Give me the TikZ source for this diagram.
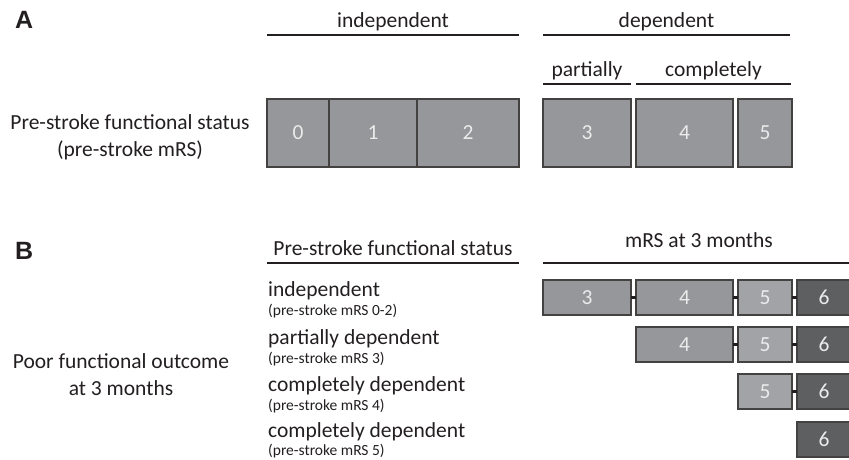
\documentclass[tikz,border=0pt]{standalone}
\usepackage{fontspec}
\setmainfont{Carlito}
\newfontfamily\panelfont{Liberation Sans}
\usepackage{xcolor}
\usetikzlibrary{positioning}

\definecolor{inkdark}{RGB}{35,31,32}
\definecolor{cellmid}{RGB}{150,151,154}
\definecolor{celllight}{RGB}{162,163,166}
\definecolor{celldark}{RGB}{94,95,97}

\begin{document}
\begin{tikzpicture}[
  x=1pt, y=-1pt,
  node distance=5pt and 5pt,
  panel/.style={font=\panelfont\bfseries\fontsize{25}{25}\selectfont, text=inkdark, inner sep=0pt, anchor=north west},
  label/.style={font=\fontsize{21.5}{27}\selectfont, text=inkdark, align=center, inner sep=0pt},
  rowlabel/.style={font=\fontsize{21.5}{21.5}\selectfont, text=inkdark, inner sep=0pt, anchor=base west},
  note/.style={font=\fontsize{15.5}{15.5}\selectfont, text=inkdark, inner sep=0pt, anchor=base west},
  rule/.style={line width=2.4pt, inkdark},
  rulelabel/.style={font=\fontsize{21.5}{21.5}\selectfont, text=inkdark, inner sep=0pt, anchor=base, yshift=7.5pt},
  cell/.style={draw=inkdark!85, line width=1.1pt, outer sep=0pt, fill=cellmid, text=white!92!black, font=\fontsize{21.5}{21.5}\selectfont, inner sep=0pt},
  bigcell/.style={cell, minimum height=68pt},
  smallcell/.style={cell, minimum height=35pt},
  link/.style={line width=2.8pt, inkdark}
]
\useasboundingbox (0,0) rectangle (849,460);
\clip (0,0) rectangle (849,460);

% panel A
\node[panel] (pa) at (15,11) {A};
\node[label] (statusA) at (130,137) {Pre-stroke functional status\\(pre-stroke mRS)};

\coordinate (indL) at (267,35);  \coordinate (indR) at (519,35);
\coordinate (depL) at (543,35);  \coordinate (depR) at (790,35);
\coordinate (parL) at (543,84);  \coordinate (parR) at (631,84);
\coordinate (comL) at (636,84);  \coordinate (comR) at (791,84);
\draw[rule] (indL) -- node[rulelabel]{independent} (indR);
\draw[rule] (depL) -- node[rulelabel]{dependent} (depR);
\draw[rule] (parL) -- node[rulelabel]{partially} (parR);
\draw[rule] (comL) -- node[rulelabel]{completely} (comR);

\node[bigcell, minimum width=62pt, anchor=north west] (a0) at (267,99) {0};
\node[bigcell, minimum width=88pt, right=0pt of a0] (a1) {1};
\node[bigcell, minimum width=102pt, right=0pt of a1] (a2) {2};
\node[bigcell, minimum width=88pt, right=24pt of a2] (a3) {3};
\node[bigcell, minimum width=97pt, right=of a3] (a4) {4};
\node[bigcell, minimum width=54pt, right=of a4] (a5) {5};

% panel B
\node[panel] (pb) at (15,242) {B};
\node[label] (outcome) at (121,375) {Poor functional outcome\\at 3 months};

\coordinate (psL) at (267,263);  \coordinate (psR) at (519,263);
\coordinate (mrsL) at (543,263); \coordinate (mrsR) at (855,263);
\draw[rule] (psL) -- node[rulelabel, yshift=0.5pt]{Pre-stroke functional status} (psR);
\draw[rule] (mrsL) -- (mrsR);
\node[rulelabel, yshift=8pt] (mrstitle) at (699,263) {mRS at 3 months};

\node[rowlabel] (ind) at (268,296) {independent};
\node[note] (indnote) at (268,315) {(pre-stroke mRS 0-2)};
\node[rowlabel] (par) at (268,344) {partially dependent};
\node[note] (parnote) at (268,363) {(pre-stroke mRS 3)};
\node[rowlabel] (com4) at (268,391) {completely dependent};
\node[note] (com4note) at (268,410) {(pre-stroke mRS 4)};
\node[rowlabel] (com5) at (268,437) {completely dependent};
\node[note] (com5note) at (268,455) {(pre-stroke mRS 5)};

% mRS at 3 months, row by row
\node[smallcell, minimum width=88pt, anchor=north west] (r1c3) at (543,280) {3};
\node[smallcell, minimum width=97pt, right=of r1c3] (r1c4) {4};
\node[smallcell, minimum width=54pt, fill=celllight, right=of r1c4] (r1c5) {5};
\node[smallcell, minimum width=54pt, fill=celldark, right=of r1c5] (r1c6) {6};

\node[smallcell, minimum width=97pt, below=12pt of r1c4] (r2c4) {4};
\node[smallcell, minimum width=54pt, fill=celllight, right=of r2c4] (r2c5) {5};
\node[smallcell, minimum width=54pt, fill=celldark, right=of r2c5] (r2c6) {6};

\node[smallcell, minimum width=54pt, fill=celllight, below=12pt of r2c5] (r3c5) {5};
\node[smallcell, minimum width=54pt, fill=celldark, right=of r3c5] (r3c6) {6};

\node[smallcell, minimum width=54pt, fill=celldark, below=13pt of r3c6] (r4c6) {6};

\draw[link] (r1c3) -- (r1c4);
\draw[link] (r1c4) -- (r1c5);
\draw[link] (r1c5) -- (r1c6);
\draw[link] (r2c4) -- (r2c5);
\draw[link] (r2c5) -- (r2c6);
\draw[link] (r3c5) -- (r3c6);
\end{tikzpicture}
\end{document}
